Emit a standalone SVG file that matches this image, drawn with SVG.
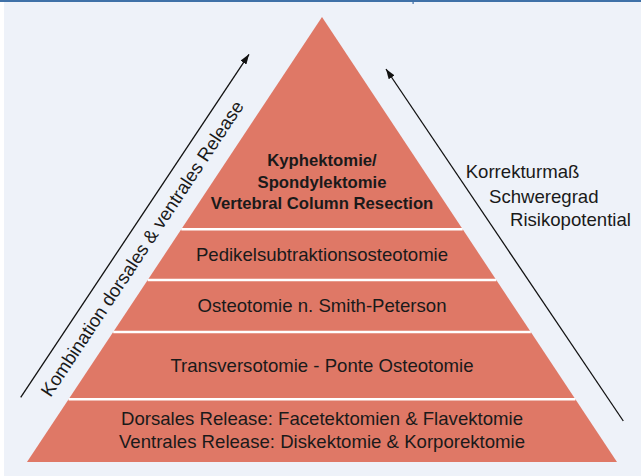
<svg xmlns="http://www.w3.org/2000/svg" width="641" height="476" viewBox="0 0 641 476">
<defs>
<style>
.bg{fill:#EEF2F9}
.layer{fill:#DF7866}
.sep{stroke:#FFFFFF;stroke-width:2.4}
.t{font-family:"Liberation Sans",Arial,sans-serif;font-size:18.6px;fill:#1A1A1A}
.c{text-anchor:middle}
.b{font-weight:bold;font-size:16.7px}
.arr{stroke:#111111;stroke-width:1.3;fill:none;marker-end:url(#ah)}
</style>
<marker id="ah" viewBox="0 0 10 7" refX="10" refY="3.5" markerWidth="10" markerHeight="7" markerUnits="userSpaceOnUse" orient="auto">
<path d="M0,0 L10,3.5 L0,7 z" fill="#111111"/>
</marker>
</defs>
<rect x="0" y="0" width="641" height="476" fill="#FFFFFF"/>
<rect class="bg" x="4" y="2" width="637" height="474"/>
<rect x="0" y="0" width="641" height="2" fill="#3F71A8"/>
<rect x="412.5" y="0" width="1.2" height="4" fill="#3F71A8"/>

<g id="layer1">
<polygon class="layer" points="322,17 462.7,229.3 181.3,229.3"/>
<text class="t b c" x="322" y="166">Kyphektomie/</text>
<text class="t b c" x="322" y="187.7">Spondylektomie</text>
<text class="t b c" x="322" y="209">Vertebral Column Resection</text>
</g>
<g id="layer2">
<polygon class="layer" points="181.3,229.3 462.7,229.3 496.3,280 147.7,280"/>
<text class="t c" x="322" y="260.7">Pedikelsubtraktionsosteotomie</text>
</g>
<g id="layer3">
<polygon class="layer" points="147.7,280 496.3,280 530.8,332 113.2,332"/>
<text class="t c" x="322" y="311.7">Osteotomie n. Smith-Peterson</text>
</g>
<g id="layer4">
<polygon class="layer" points="113.2,332 530.8,332 575.4,399.3 68.6,399.3"/>
<text class="t c" x="322" y="371.7">Transversotomie - Ponte Osteotomie</text>
</g>
<g id="layer5">
<polygon class="layer" points="68.6,399.3 575.4,399.3 617,462 27,462"/>
<text class="t c" x="322" y="425">Dorsales Release: Facetektomien &amp; Flavektomie</text>
<text class="t c" x="322" y="448.3">Ventrales Release: Diskektomie &amp; Korporektomie</text>
</g>
<g id="separators">
<line class="sep" x1="181.3" y1="229.3" x2="462.7" y2="229.3"/>
<line class="sep" x1="147.7" y1="280" x2="496.3" y2="280"/>
<line class="sep" x1="113.2" y1="332" x2="530.8" y2="332"/>
<line class="sep" x1="68.6" y1="399.3" x2="575.4" y2="399.3"/>
</g>

<g id="connectors">
<line class="arr" x1="20.7" y1="397.3" x2="249" y2="54.3"/>
<line class="arr" x1="623.3" y1="421" x2="386" y2="69"/>
</g>

<g id="label-left">
<text class="t c" transform="translate(147.5,252) rotate(-56.4)" x="0" y="0">Kombination dorsales &amp; ventrales Release</text>
</g>
<g id="label-right">
<text class="t" x="465.7" y="178.3">Korrekturmaß</text>
<text class="t" x="489" y="203.3">Schweregrad</text>
<text class="t" x="510" y="226">Risikopotential</text>
</g>
</svg>
